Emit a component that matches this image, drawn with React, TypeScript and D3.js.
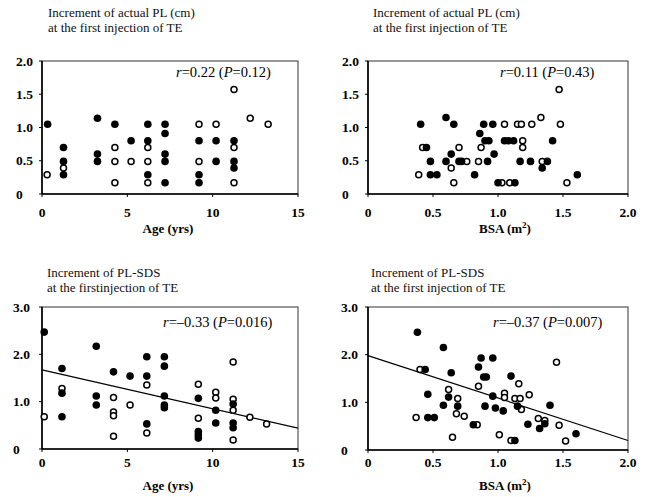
import React from "react";
import * as d3 from "d3";

// ---- Data ----
// Panel A: Age (yrs) vs increment of actual PL (cm)
const ageFilledPL: [number, number][] = [
  [0.33, 1.05], [1.26, 0.7], [1.26, 0.49], [1.26, 0.29], [3.25, 1.14], [3.25, 0.6], [3.25, 0.49],
  [4.27, 1.05], [5.22, 0.8], [6.2, 1.05], [6.2, 0.8], [6.2, 0.29], [7.21, 1.05], [7.21, 0.91],
  [7.21, 0.6], [7.21, 0.49], [7.21, 0.17], [9.2, 0.8], [9.2, 0.29], [9.2, 0.17], [10.2, 0.8],
  [10.2, 0.49], [11.25, 0.8], [11.25, 0.49], [11.25, 0.39],
];
const ageOpenPL: [number, number][] = [
  [0.3, 0.29], [1.26, 0.39], [4.27, 0.7], [4.27, 0.49], [4.27, 0.17], [5.22, 0.49], [6.2, 0.7],
  [6.2, 0.49], [6.2, 0.17], [9.2, 1.05], [9.2, 0.49], [10.2, 1.05], [11.25, 1.57], [11.25, 0.7],
  [11.25, 0.17], [12.2, 1.14], [13.25, 1.05],
];
// Panel B: BSA (m2) vs increment of actual PL (cm)
const bsaFilledPL: [number, number][] = [
  [0.405, 1.05], [0.45, 0.7], [0.48, 0.49], [0.48, 0.29], [0.53, 0.29], [0.6, 1.15], [0.66, 1.05],
  [0.64, 0.6], [0.6, 0.49], [0.7, 0.49], [0.72, 0.49], [0.82, 0.29], [0.86, 0.91], [0.89, 1.05],
  [0.92, 0.49], [0.9, 0.8], [0.93, 0.8], [0.96, 1.05], [0.97, 0.6], [1.0, 0.17], [1.13, 0.17],
  [1.05, 0.8], [1.08, 0.8], [1.12, 0.8], [1.42, 0.8], [1.17, 0.49], [1.25, 0.49], [1.38, 0.49],
  [1.34, 0.39], [1.61, 0.29],
];
const bsaOpenPL: [number, number][] = [
  [0.42, 0.7], [0.39, 0.29], [0.64, 0.39], [0.66, 0.17], [0.7, 0.7], [0.76, 0.49], [0.85, 0.49],
  [0.87, 0.7], [1.03, 0.17], [1.09, 0.17], [1.05, 1.05], [1.15, 1.05], [1.18, 1.05], [1.26, 1.05],
  [1.33, 1.15], [1.47, 1.57], [1.48, 1.05], [1.19, 0.8], [1.19, 0.7], [1.34, 0.49], [1.53, 0.17],
];
// Panel C: Age (yrs) vs increment of PL-SDS
const ageFilledSDS: [number, number][] = [
  [0.13, 2.47], [1.17, 1.7], [1.17, 1.18], [1.17, 0.68], [3.18, 2.17], [3.18, 1.12], [3.18, 0.93],
  [4.19, 1.63], [5.16, 1.54], [6.14, 1.95], [6.14, 1.54], [6.14, 0.53], [7.17, 1.95], [7.17, 1.75],
  [7.17, 1.12], [7.17, 0.93], [7.17, 0.87], [9.16, 1.07], [9.16, 0.37], [9.16, 0.3], [9.16, 0.23],
  [10.18, 0.82], [10.18, 0.55], [11.2, 0.95], [11.2, 0.55], [11.2, 0.45],
];
const ageOpenSDS: [number, number][] = [
  [0.13, 0.68], [1.17, 1.28], [4.19, 1.09], [4.19, 0.78], [4.19, 0.7], [4.19, 0.27], [5.16, 0.93],
  [6.14, 1.35], [6.14, 0.34], [9.16, 1.37], [9.16, 0.65], [10.18, 1.2], [10.18, 1.08], [11.2, 1.84],
  [11.2, 1.05], [11.2, 0.82], [11.2, 0.19], [12.18, 0.67], [13.16, 0.53],
];
// Panel D: BSA (m2) vs increment of PL-SDS
const bsaFilledSDS: [number, number][] = [
  [0.38, 2.47], [0.44, 1.69], [0.46, 1.17], [0.46, 0.68], [0.51, 0.68], [0.58, 2.15], [0.64, 1.62],
  [0.62, 1.11], [0.58, 0.94], [0.69, 0.92], [0.81, 0.53], [0.85, 1.74], [0.87, 1.93], [0.89, 1.53],
  [0.91, 1.53], [0.9, 0.92], [0.96, 1.93], [0.96, 1.13], [0.98, 0.88], [1.04, 0.82], [1.1, 1.55],
  [1.15, 0.92], [1.13, 0.2], [1.23, 0.54], [1.32, 0.45], [1.36, 0.55], [1.4, 0.94], [1.6, 0.34],
];
const bsaOpenSDS: [number, number][] = [
  [0.4, 1.69], [0.37, 0.68], [0.62, 1.27], [0.69, 1.08], [0.68, 0.76], [0.74, 0.71], [0.65, 0.27],
  [0.84, 0.53], [0.85, 1.34], [1.05, 1.19], [1.05, 1.1], [1.16, 1.39], [1.13, 1.08], [1.17, 1.08],
  [1.18, 0.85], [1.24, 1.16], [1.01, 0.32], [1.1, 0.2], [1.31, 0.66], [1.36, 0.62], [1.45, 1.84],
  [1.47, 0.52], [1.52, 0.19],
];
// Regression lines: [x start, y start, x end, y end]
const lineAgeSDS = [0, 1.67, 15, 0.44];
const lineBsaSDS = [0, 1.98, 2.0, 0.2];

const ageTicks = [0, 5, 10, 15];
const ageTickLabels = ["0", "5", "10", "15"];
const bsaTicks = [0, 0.5, 1.0, 1.5, 2.0];
const bsaTickLabels = ["0", "0.5", "1.0", "1.5", "2.0"];
const plTicks = [0, 0.5, 1.0, 1.5, 2.0];
const plTickLabels = ["0", "0.5", "1.0", "1.5", "2.0"];
const sdsTicks = [0, 1, 2, 3];
const sdsTickLabels = ["0", "1.0", "2.0", "3.0"];

const FONT = "'Liberation Serif', 'Times New Roman', serif";

type PanelProps = {
  x0: number; x1: number; yTop: number; yBot: number;
  xMax: number; yMax: number;
  xTicks: number[]; xLabels: string[];
  yTicks: number[]; yLabels: string[];
  yLabelX: number;
  filled: [number, number][]; open: [number, number][];
  line?: number[];
  title1: string; title2: string; titleX: number; titleY: number; titleGap: number;
  r: string; p: string; rX: number; rY: number;
  xTitle: React.ReactNode; xTitleX: number; xTitleY: number;
  xLabelY: number;
};

function Panel(props: PanelProps) {
  const x = d3.scaleLinear().domain([0, props.xMax]).range([props.x0, props.x1]);
  const y = d3.scaleLinear().domain([0, props.yMax]).range([props.yBot, props.yTop]);
  const lineGen = d3.line<[number, number]>().x((d) => x(d[0])).y((d) => y(d[1]));
  return (
    <g fontFamily={FONT} fill="#000">
      <text x={props.titleX} y={props.titleY} fontSize={13} fill="#111">{props.title1}</text>
      <text x={props.titleX} y={props.titleY + props.titleGap} fontSize={13} fill="#111">{props.title2}</text>
      <rect x={props.x0} y={props.yTop} width={props.x1 - props.x0} height={props.yBot - props.yTop}
        fill="none" stroke="#333" strokeWidth={1} />
      <line x1={props.x0} x2={props.x1} y1={props.yBot} y2={props.yBot} stroke="#000" strokeWidth={1.6} />
      <line x1={props.x0} x2={props.x0} y1={props.yTop} y2={props.yBot} stroke="#000" strokeWidth={1.6} />
      {props.xTicks.map((t, i) => (
        <g key={"xt" + i}>
          <line x1={x(t)} x2={x(t)} y1={props.yBot} y2={props.yBot + 3} stroke="#000" strokeWidth={1} />
          <text x={x(t)} y={props.xLabelY} fontSize={13.5} fontWeight="bold" textAnchor="middle">{props.xLabels[i]}</text>
        </g>
      ))}
      {props.yTicks.map((t, i) => (
        <g key={"yt" + i}>
          <line x1={props.x0 - 3} x2={props.x0} y1={y(t)} y2={y(t)} stroke="#000" strokeWidth={1} />
          <text x={props.yLabelX} y={y(t) + 4.5} fontSize={13.5} fontWeight="bold">{props.yLabels[i]}</text>
        </g>
      ))}
      {props.line && (
        <path d={lineGen([[props.line[0], props.line[1]], [props.line[2], props.line[3]]]) || ""}
          stroke="#000" strokeWidth={1.2} fill="none" />
      )}
      {props.open.map((d, i) => (
        <circle key={"o" + i} cx={x(d[0])} cy={y(d[1])} r={3} fill="#fff" stroke="#000" strokeWidth={1.5} />
      ))}
      {props.filled.map((d, i) => (
        <circle key={"f" + i} cx={x(d[0])} cy={y(d[1])} r={3.8} fill="#000" />
      ))}
      <text x={props.rX} y={props.rY} fontSize={14.5}>
        <tspan fontStyle="italic">r</tspan>{"=" + props.r + " ("}<tspan fontStyle="italic">P</tspan>{"=" + props.p + ")"}
      </text>
      <text x={props.xTitleX} y={props.xTitleY} fontSize={13} fontWeight="bold" textAnchor="middle">{props.xTitle}</text>
    </g>
  );
}

export default function App() {
  const bsaTitle = (
    <>
      BSA (m<tspan dy={-5} fontSize={9}>2</tspan><tspan dy={5}>)</tspan>
    </>
  );
  return (
    <svg width={651} height={497} style={{ position: "absolute", left: 0, top: 0, background: "#fff" }}>
      <rect x={0} y={0} width={651} height={497} fill="#fff" />
      <Panel x0={42} x1={298} yTop={61} yBot={194} xMax={15} yMax={2}
        xTicks={ageTicks} xLabels={ageTickLabels} yTicks={plTicks} yLabels={plTickLabels} yLabelX={16}
        filled={ageFilledPL} open={ageOpenPL}
        title1="Increment of actual PL (cm)" title2="at the first injection of TE" titleX={48} titleY={17} titleGap={15}
        r="0.22" p="0.12" rX={176} rY={77}
        xTitle="Age (yrs)" xTitleX={168} xTitleY={233} xLabelY={217} />
      <Panel x0={368} x1={628} yTop={61} yBot={194} xMax={2} yMax={2}
        xTicks={bsaTicks} xLabels={bsaTickLabels} yTicks={plTicks} yLabels={plTickLabels} yLabelX={342}
        filled={bsaFilledPL} open={bsaOpenPL}
        title1="Increment of actual PL (cm)" title2="at the first injection of TE" titleX={373} titleY={17} titleGap={15}
        r="0.11" p="0.43" rX={500} rY={77}
        xTitle={bsaTitle} xTitleX={505} xTitleY={233} xLabelY={217} />
      <Panel x0={42} x1={298} yTop={307} yBot={449} xMax={15} yMax={3}
        xTicks={ageTicks} xLabels={ageTickLabels} yTicks={sdsTicks} yLabels={sdsTickLabels} yLabelX={13}
        filled={ageFilledSDS} open={ageOpenSDS} line={lineAgeSDS}
        title1="Increment of PL-SDS" title2="at the firstinjection of TE" titleX={47} titleY={277} titleGap={15}
        r="–0.33" p="0.016" rX={163} rY={327}
        xTitle="Age (yrs)" xTitleX={168} xTitleY={490} xLabelY={467} />
      <Panel x0={368} x1={628} yTop={307} yBot={450} xMax={2} yMax={3}
        xTicks={bsaTicks} xLabels={bsaTickLabels} yTicks={sdsTicks} yLabels={sdsTickLabels} yLabelX={341}
        filled={bsaFilledSDS} open={bsaOpenSDS} line={lineBsaSDS}
        title1="Increment of PL-SDS" title2="at the first injection of TE" titleX={371} titleY={277} titleGap={15}
        r="–0.37" p="0.007" rX={493} rY={327}
        xTitle={bsaTitle} xTitleX={505} xTitleY={490} xLabelY={467} />
    </svg>
  );
}
